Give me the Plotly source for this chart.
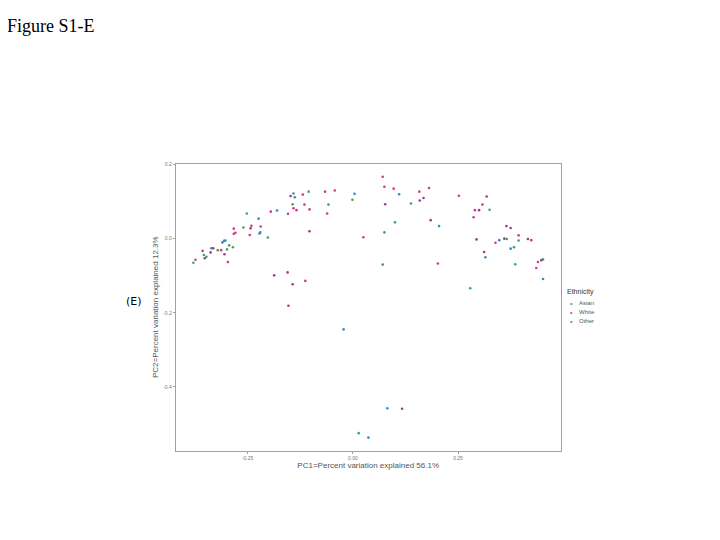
import plotly.graph_objects as go

# ---- data ----
asian_pc1 = [-0.379, -0.354, -0.348, -0.321, -0.299, -0.294, -0.285, -0.260, -0.252, -0.202,
             -0.143, -0.105, -0.058, -0.001, 0.100, 0.075, 0.138, 0.325, 0.366, 0.394,
             0.383, 0.386, 0.452, 0.279, 0.014]
asian_pc2 = [-0.065, -0.044, -0.049, -0.031, -0.029, -0.018, -0.023, 0.030, 0.068, 0.003,
             0.093, 0.127, 0.092, 0.105, 0.044, 0.017, 0.095, 0.078, -0.001, -0.005,
             -0.023, -0.069, -0.056, -0.134, -0.525]

white_pc1 = [-0.374, -0.357, -0.313, -0.297, -0.283, -0.283, -0.279, -0.245, -0.241, -0.219,
             -0.195, -0.154, -0.141, -0.134, -0.119, -0.115, -0.113, -0.103, -0.066, -0.061,
             -0.043, 0.071, 0.075, 0.097, 0.025, 0.158, 0.181, 0.202, 0.252, 0.308,
             0.290, 0.287, 0.339, 0.394, 0.424, 0.440, 0.436]
white_pc2 = [-0.057, -0.033, -0.031, -0.063, 0.027, 0.013, 0.016, 0.010, 0.035, 0.033,
             0.073, 0.067, 0.082, 0.077, 0.119, 0.092, -0.114, 0.079, 0.127, 0.068,
             0.130, 0.167, 0.140, 0.135, 0.004, 0.127, 0.137, -0.067, 0.116, 0.092,
             0.077, 0.058, -0.011, 0.009, -0.004, -0.063, -0.079]

# darker (overlapping) White points
white2_pc1 = [-0.352, -0.338, -0.332, -0.305, -0.243, -0.187, -0.155, -0.148, -0.143, -0.153,
              -0.103, 0.077, 0.159, 0.168, 0.185, 0.318, 0.300, 0.365, 0.375, 0.294,
              0.312, 0.360, 0.416, 0.448, 0.117]
white2_pc2 = [-0.053, -0.037, -0.026, -0.042, 0.028, -0.099, -0.091, 0.115, -0.123, -0.181,
              0.020, 0.093, 0.103, 0.110, 0.050, 0.114, 0.077, 0.034, 0.029, -0.002,
              -0.036, 0.000, -0.001, -0.058, -0.459]

other_pc1 = [-0.336, -0.310, -0.306, -0.303, -0.224, -0.220, -0.222, -0.180, -0.141, -0.138,
             0.004, 0.110, 0.071, 0.205, 0.315, 0.348, 0.375, 0.452, -0.022, 0.082, 0.037]
other_pc2 = [-0.026, -0.010, -0.006, -0.005, 0.054, 0.017, 0.014, 0.076, 0.122, 0.112,
             0.121, 0.120, -0.070, 0.034, -0.050, -0.004, -0.027, -0.109, -0.245, -0.458, -0.537]

y_ticks = [-0.4, -0.2, 0.0, 0.2]
y_tick_labels = ["-0.4", "-0.2", "0.0", "0.2"]
x_ticks = [-0.25, 0.0, 0.25]
x_tick_labels = ["-0.25", "0.00", "0.25"]
legend_labels = ["Asian", "White", "Other"]

C_ASIAN = "#3aa858"
C_WHITE = "#d4388c"
C_WHITE2 = "#9c3a8e"
C_OTHER = "#3a88ba"
legend_colors = [C_ASIAN, C_WHITE, C_OTHER]

MS = 2.6
fig = go.Figure()
fig.add_trace(go.Scatter(x=asian_pc1, y=asian_pc2, mode="markers", name="Asian",
                         marker=dict(color=C_ASIAN, size=MS)))
fig.add_trace(go.Scatter(x=white_pc1, y=white_pc2, mode="markers", name="White",
                         marker=dict(color=C_WHITE, size=MS)))
fig.add_trace(go.Scatter(x=other_pc1, y=other_pc2, mode="markers", name="Other",
                         marker=dict(color=C_OTHER, size=MS)))
fig.add_trace(go.Scatter(x=white2_pc1, y=white2_pc2, mode="markers", name="White",
                         marker=dict(color=C_WHITE2, size=MS)))

W, H = 720, 540
OFF = 8  # page body margin offset


def px(x):
    return (x - OFF) / W


def py(y):
    return 1 - (y - OFF) / H


fig.update_layout(
    width=W, height=H,
    margin=dict(l=0, r=0, t=0, b=0),
    paper_bgcolor="white", plot_bgcolor="white",
    showlegend=False,
    font=dict(family="Liberation Sans, Arial, sans-serif", color="#444"),
    xaxis=dict(domain=[px(175.7), px(560.7)], range=[-0.421, 0.494],
               tickvals=x_ticks, ticktext=x_tick_labels, tickfont=dict(size=5, color="#777"),
               showgrid=False, zeroline=False, showline=True, mirror=True,
               linecolor="#a0a0a0", linewidth=1, ticks="outside", ticklen=2, tickcolor="#a0a0a0",
               title=dict(text="PC1=Percent variation explained 56.1%",
                          font=dict(size=8, color="#555"), standoff=0)),
    yaxis=dict(domain=[py(450), py(161.7)], range=[-0.572, 0.202],
               tickvals=y_ticks, ticktext=y_tick_labels, tickfont=dict(size=5, color="#777"),
               showgrid=False, zeroline=False, showline=True, mirror=True,
               linecolor="#a0a0a0", linewidth=1, ticks="outside", ticklen=2, tickcolor="#a0a0a0",
               title=dict(text="PC2=Percent variation explained 12.3%",
                          font=dict(size=8, color="#555"), standoff=3)),
)

# manual legend (compact like the reference)
fig.add_annotation(text="Ethnicity", x=px(565), y=py(291), xref="paper", yref="paper",
                   xanchor="left", yanchor="middle", showarrow=False,
                   font=dict(size=7, color="#333"))
for i, (lab, col) in enumerate(zip(legend_labels, legend_colors)):
    yy = 302 + 9 * i
    fig.add_annotation(text=f"<span style='color:{col}'>•</span>", x=px(571.5), y=py(yy),
                       xref="paper", yref="paper", xanchor="center", yanchor="middle",
                       showarrow=False, font=dict(size=7))
    fig.add_annotation(text=lab, x=px(577), y=py(yy), xref="paper", yref="paper",
                       xanchor="left", yanchor="middle", showarrow=False,
                       font=dict(size=6, color="#555"))

fig.add_annotation(text="Figure S1-E", x=px(5), y=py(23), xref="paper", yref="paper",
                   xanchor="left", yanchor="middle", showarrow=False,
                   font=dict(family="Liberation Serif, Times New Roman, serif", size=18, color="black"))
fig.add_annotation(text="(E)", x=px(134), y=py(300), xref="paper", yref="paper",
                   xanchor="center", yanchor="middle", showarrow=False,
                   font=dict(family="DejaVu Sans, sans-serif", size=11, color="black"))

fig.write_html("out.html")
